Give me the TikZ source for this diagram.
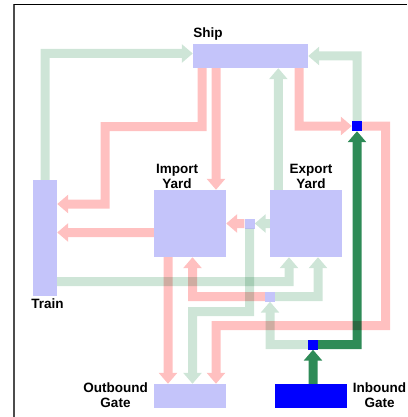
\documentclass[tikz,border=0pt]{standalone}
\usepackage{fontspec}
\setmainfont{Liberation Sans}
\usetikzlibrary{arrows.meta}
\definecolor{boxblue}{RGB}{196,196,250}
\definecolor{pinkflow}{RGB}{255,192,192}
\definecolor{greenflow}{RGB}{206,229,215}
\definecolor{darkflow}{RGB}{46,139,87}
\definecolor{gateblue}{RGB}{0,0,255}
% one flow = one group, so its tip and shaft do not darken each other
\newcommand{\flowline}[2]{\begin{scope}[transparency group]\draw[#1] #2;\end{scope}}
\begin{document}
\begin{tikzpicture}[x=1pt,y=-1pt,
    box/.style={fill=boxblue, inner sep=0pt},
    yardbox/.style={box, minimum width=72pt, minimum height=67pt},
    jct/.style={inner sep=0pt, minimum size=10pt},
    lbl/.style={font=\bfseries\fontsize{13.5}{15}\selectfont, inner sep=0pt, align=center, anchor=north},
    flow/.style={line width=9pt, -{Triangle[width=18pt,length=11pt]}},
    pinkarrow/.style={flow, draw=pinkflow},
    greenarrow/.style={flow, draw=greenflow},
    darkarrow/.style={flow, draw=darkflow}]
    \useasboundingbox (0,0) rectangle (407,417);
    % places
    \node[box, minimum width=115pt, minimum height=24pt] (ship) at (250.5,56) {};
    \node[box, minimum width=24pt, minimum height=116pt] (train) at (45,238) {};
    \node[yardbox] (imp) at (190,223.5) {};
    \node[yardbox] (exp) at (306,223.5) {};
    \node[box, minimum width=72pt, minimum height=24pt] (outg) at (190,396) {};
    \node[box, fill=gateblue, minimum width=72pt, minimum height=24pt] (ing) at (311,396) {};
    \node[jct, fill=gateblue] (topjct) at (357,126) {};
    \node[jct, fill=gateblue] (gatejct) at (313,344.5) {};
    \node[jct, fill=boxblue] (yardjct) at (249.5,223.5) {};
    \node[jct, fill=boxblue] (midjct) at (270,296.5) {};
    % labels
    \node[lbl] (shiplbl) at (208,28) {Ship};
    \node[lbl] (implbl) at (177,164) {Import\\Yard};
    \node[lbl] (explbl) at (311,164) {Export\\Yard};
    \node[lbl] (trainlbl) at (47.5,299) {Train};
    \node[lbl] (outglbl) at (115.5,383) {Outbound\\Gate};
    \node[lbl] (inglbl) at (379.5,383) {Inbound\\Gate};
    \coordinate (imptr) at ([yshift=-9pt]imp.west);
    \coordinate (trexp) at ([yshift=-43.5pt]train.east);
    \coordinate (expup) at ([xshift=8.5pt]exp.north west);
    \begin{scope}[blend mode=multiply]
        % import flows
        \flowline{pinkarrow}{([xshift=-48.5pt]ship.south) -- ++(0,58.5) -- ++(-97,0) |- ([yshift=34pt]train.east)}
        \flowline{pinkarrow}{([xshift=-34.5pt]ship.south) -- ([xshift=26pt]imp.north)}
        \flowline{pinkarrow}{([xshift=48.5pt]ship.south) |- (topjct.west)}
        \flowline{pinkarrow}{(topjct.east) -- ++(23.5,0) -- ++(0,199.5) -| ([xshift=26pt]outg.north)}
        \flowline{pinkarrow}{(imptr) -- (imptr -| train.east)}
        \flowline{pinkarrow}{([xshift=-22pt]imp.south) -- ([xshift=-22pt]outg.north)}
        \flowline{pinkarrow}{(midjct.west) -| ([xshift=2.5pt]imp.south)}
        \flowline{pinkarrow}{(yardjct.west) -- (imp.east)}
        % export flows
        \flowline{greenarrow}{(train.north) |- ([yshift=2.5pt]ship.west)}
        \flowline{greenarrow}{(topjct.north) |- (ship.east)}
        \flowline{greenarrow}{(expup) -- (expup |- ship.south)}
        \flowline{greenarrow}{(exp.west) -- (yardjct.east)}
        \flowline{greenarrow}{(yardjct.south) -- ++(0,83) -| ([xshift=2.5pt]outg.north)}
        \flowline{greenarrow}{(trexp) -| ([xshift=-17pt]exp.south)}
        \flowline{greenarrow}{(midjct.east) -| ([xshift=12pt]exp.south)}
        \flowline{greenarrow}{(gatejct.west) -| (midjct.south)}
        % inbound gate
        \flowline{darkarrow}{(gatejct.south |- ing.north) -- (gatejct.south)}
        \flowline{darkarrow}{(gatejct.east) -| (topjct.south)}
    \end{scope}
    % frame
    \draw[line width=1.4pt, black!70] (14,417) -- (14,4.5);
    \draw[line width=1pt, black] (14,4.5) -- (407,4.5);
\end{tikzpicture}
\end{document}
